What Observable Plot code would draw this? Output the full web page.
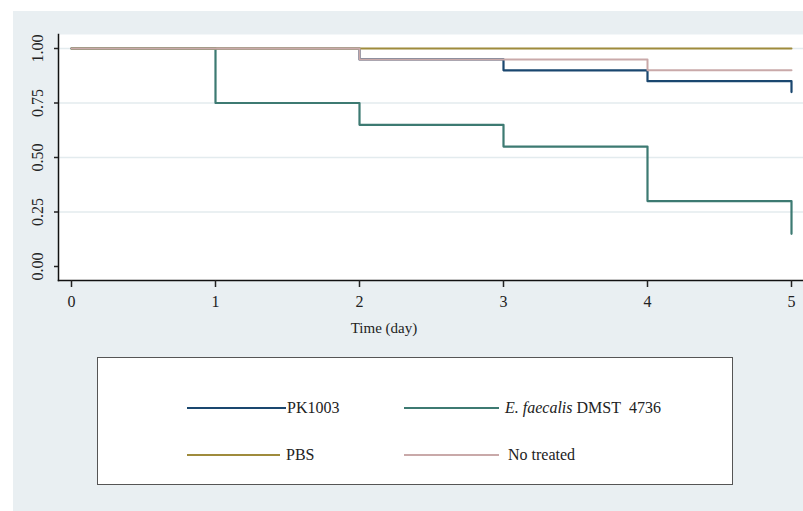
<!DOCTYPE html>
<html><head><meta charset="utf-8">
<script src="https://cdn.jsdelivr.net/npm/d3@7"></script>
<script src="https://cdn.jsdelivr.net/npm/@observablehq/plot@0.6"></script>
<style>
body{margin:0;background:#fff;width:803px;height:511px;overflow:hidden;font-family:"Times New Roman","Liberation Serif",Tinos,serif;}
#bg{position:absolute;left:13px;top:11px;width:790px;height:500px;background:#e9eff2;}
#chart{position:absolute;left:0;top:0;}
#chart svg text{font-family:"Times New Roman","Liberation Serif",Tinos,serif;}
#xlabel{position:absolute;left:334px;width:100px;text-align:center;top:320px;font-size:15px;color:#222;}
#legend{position:absolute;left:97px;top:357px;width:634px;height:126px;background:#fff;border:1px solid #555;}
.item{position:absolute;font-size:16px;color:#222;display:flex;align-items:center;}
.item .sw{display:inline-block;}
</style></head>
<body>
<div id="bg"></div>
<div id="chart"></div>
<div id="xlabel">Time (day)</div>
<div id="legend"></div>
<script>
const groups = ["PK1003", "E. faecalis DMST 4736", "PBS", "No treated"];
const colors = ["#1a476f", "#3d7a72", "#9f8b3c", "#c9a9a9"];
const widths = [2.2, 2.2, 2, 2];
const pkDays = [0, 2, 3, 4, 5];
const pkSurv = [1, 0.95, 0.90, 0.85, 0.80];
const efDays = [0, 1, 2, 3, 4, 5];
const efSurv = [1, 0.75, 0.65, 0.55, 0.30, 0.15];
const pbsDays = [0, 5];
const pbsSurv = [1, 1];
const ntDays = [0, 2, 4, 5];
const ntSurv = [1, 0.95, 0.90, 0.90];
const xTicks = [0, 1, 2, 3, 4, 5];
const yTicks = [0, 0.25, 0.5, 0.75, 1];
const gridTicks = [0.25, 0.5, 0.75, 1];

const series = [
  [pkDays, pkSurv], [efDays, efSurv], [pbsDays, pbsSurv], [ntDays, ntSurv]
].map(([d, s], i) => d.map((t, j) => ({group: groups[i], t, s: s[j]})));

const lineMarks = series.map((data, i) =>
  Plot.line(data, {x: "t", y: "s", curve: "step-after", stroke: colors[i], strokeWidth: widths[i]}));

const plot = Plot.plot({
  width: 803, height: 511,
  marginLeft: 58, marginRight: 0, marginTop: 34, marginBottom: 231,
  insetLeft: 13, insetRight: 12, insetTop: 14, insetBottom: 14,
  style: {background: "transparent", fontFamily: "Times New Roman, Liberation Serif, serif", fontSize: "16px", color: "#222"},
  x: {domain: [0, 5]},
  y: {domain: [0, 1]},
  marks: [
    Plot.frame({fill: "white", stroke: "none"}),
    Plot.gridY(gridTicks, {stroke: "#e3ebee", strokeOpacity: 1, strokeWidth: 1.5}),
    ...lineMarks,
    Plot.frame({anchor: "left", stroke: "#111", strokeWidth: 1.5}),
    Plot.frame({anchor: "bottom", stroke: "#111", strokeWidth: 1.5}),
    Plot.axisX(xTicks, {label: null, tickSize: 7, tickPadding: 8, fontSize: 16, tickFormat: d3.format("d"), strokeWidth: 1.5}),
    Plot.axisY(yTicks, {label: null, tickSize: 4, tickPadding: 12, tickRotate: -90, tickFormat: d3.format(".2f"), fontSize: 16, strokeWidth: 1.5})
  ]
});
document.getElementById("chart").appendChild(plot);

const legend = document.getElementById("legend");
const pos = [
  {left: 89, top: 50, w: 99, gap: 1},
  {left: 306, top: 50, w: 95, gap: 6},
  {left: 89, top: 97, w: 93, gap: 6},
  {left: 306, top: 97, w: 95, gap: 9}
];
groups.forEach((g, i) => {
  const p = pos[i];
  const el = document.createElement("div");
  el.className = "item";
  el.style.left = p.left + "px";
  el.style.top = (p.top - 10) + "px";
  el.style.height = "20px";
  const sw = document.createElement("span");
  sw.className = "sw";
  sw.style.width = p.w + "px";
  sw.style.height = widths[i] + "px";
  sw.style.background = colors[i];
  sw.style.marginRight = p.gap + "px";
  el.appendChild(sw);
  const lab = document.createElement("span");
  if (g.startsWith("E. faecalis")) {
    lab.innerHTML = "<i>E. faecalis</i>" + g.slice("E. faecalis".length).replace(" 4736", "&nbsp; 4736");
  } else lab.textContent = g;
  el.appendChild(lab);
  legend.appendChild(el);
});
</script>
</body></html>
